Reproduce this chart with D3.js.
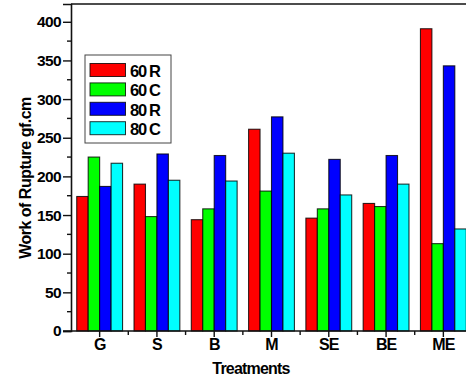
<!DOCTYPE html>
<html>
<head>
<meta charset="utf-8">
<script src="https://cdn.jsdelivr.net/npm/d3@7"></script>
<style>
  body { margin: 0; background: #fff; }
  text { font-family: "Liberation Sans", Arial, sans-serif; font-weight: bold; fill: #000; }
</style>
</head>
<body>
<div id="chart"></div>
<script>
// data
const treatments = ["G", "S", "B", "M", "SE", "BE", "ME"];
const seriesNames = ["60 R", "60 C", "80 R", "80 C"];
const seriesColors = ["#ff0000", "#00ff00", "#0000ff", "#00ffff"];
const values60R = [174, 190, 144, 261, 146, 165, 391];
const values60C = [225, 148, 158, 181, 158, 161, 113];
const values80R = [187, 229, 227, 277, 222, 227, 343];
const values80C = [217, 195, 194, 230, 176, 190, 132];
const yTicks = [0, 50, 100, 150, 200, 250, 300, 350, 400];
const yMinorTicks = [25, 75, 125, 175, 225, 275, 325, 375];

const allSeries = [values60R, values60C, values80R, values80C];

const width = 466;
const height = 379;
const margin = { top: 4, right: -6, bottom: 48, left: 71 };

const svg = d3
  .select("#chart")
  .append("svg")
  .attr("width", width)
  .attr("height", height);

const scaleX = d3
  .scaleBand()
  .domain(treatments)
  .range([margin.left, width - margin.right])
  .paddingInner(0.2)
  .paddingOuter(0.1);
const scaleSeries = d3
  .scaleBand()
  .domain(seriesNames)
  .range([0, scaleX.bandwidth()]);
const scaleY = d3
  .scaleLinear()
  .domain([0, 423])
  .range([height - margin.bottom, margin.top]);

// bars
const groups = svg
  .append("g")
  .selectAll("g")
  .data(treatments)
  .join("g")
  .attr("transform", (d) => `translate(${scaleX(d)},0)`);
groups
  .selectAll("rect")
  .data((d, i) => seriesNames.map((s, k) => ({ s, k, v: allSeries[k][i] })))
  .join("rect")
  .attr("x", (d) => scaleSeries(d.s))
  .attr("y", (d) => scaleY(d.v))
  .attr("width", scaleSeries.bandwidth())
  .attr("height", (d) => scaleY(0) - scaleY(d.v))
  .attr("fill", (d) => seriesColors[d.k])
  .attr("stroke", "#000")
  .attr("stroke-opacity", 0.8)
  .attr("stroke-width", 1.1);

// frame top line
svg
  .append("line")
  .attr("x1", margin.left)
  .attr("x2", width + 10)
  .attr("y1", margin.top)
  .attr("y2", margin.top)
  .attr("stroke", "#111")
  .attr("stroke-width", 1.6);

// y axis
const groupAxisY = svg
  .append("g")
  .attr("transform", `translate(${margin.left},0)`);
groupAxisY
  .call(d3.axisLeft(scaleY).tickValues(yTicks).tickSize(8).tickPadding(2))
  .call((g) => {
    g.select(".domain").attr("stroke", "#111").attr("stroke-width", 1.6);
    g.selectAll(".tick line").attr("stroke", "#111").attr("stroke-width", 1.4);
    g.selectAll(".tick text")
      .attr("font-size", "15.5px")
      .style("letter-spacing", "-0.6px")
      .attr("font-family", "Liberation Sans, Arial, sans-serif")
      .attr("font-weight", "bold");
  });
groupAxisY
  .append("g")
  .selectAll("line")
  .data(yMinorTicks)
  .join("line")
  .attr("x1", -4)
  .attr("x2", 0)
  .attr("y1", (d) => scaleY(d))
  .attr("y2", (d) => scaleY(d))
  .attr("stroke", "#111")
  .attr("stroke-width", 1.4);

// x axis
const groupAxisX = svg
  .append("g")
  .attr("transform", `translate(0,${scaleY(0)})`);
groupAxisX
  .append("line")
  .attr("x1", margin.left - 8)
  .attr("x2", width + 10)
  .attr("stroke", "#111")
  .attr("stroke-width", 1.6);
groupAxisX
  .selectAll(".major")
  .data(treatments)
  .join("line")
  .attr("class", "major")
  .attr("x1", (d) => scaleX(d) + scaleX.bandwidth() / 2)
  .attr("x2", (d) => scaleX(d) + scaleX.bandwidth() / 2)
  .attr("y1", 0)
  .attr("y2", 6)
  .attr("stroke", "#111")
  .attr("stroke-width", 1.4);
groupAxisX
  .selectAll(".minor")
  .data(treatments.slice(1))
  .join("line")
  .attr("class", "minor")
  .attr("x1", (d) => scaleX(d) - (scaleX.step() - scaleX.bandwidth()) / 2)
  .attr("x2", (d) => scaleX(d) - (scaleX.step() - scaleX.bandwidth()) / 2)
  .attr("y1", 0)
  .attr("y2", 4)
  .attr("stroke", "#111")
  .attr("stroke-width", 1.4);
groupAxisX
  .selectAll("text")
  .data(treatments)
  .join("text")
  .attr("x", (d) => scaleX(d) + scaleX.bandwidth() / 2)
  .attr("y", 19)
  .attr("text-anchor", "middle")
  .attr("font-size", "16px")
  .style("letter-spacing", "-1px")
  .text((d) => d);

// axis titles
svg
  .append("text")
  .attr("x", 251)
  .attr("y", 374)
  .attr("text-anchor", "middle")
  .attr("font-size", "16px")
  .style("letter-spacing", "-0.8px")
  .text("Treatments");
svg
  .append("text")
  .attr("transform", "translate(31,178) rotate(-90)")
  .attr("text-anchor", "middle")
  .attr("font-size", "16px")
  .style("letter-spacing", "-0.5px")
  .text("Work of Rupture gf.cm");

// legend
const legend = svg.append("g").attr("transform", "translate(85,55)");
legend
  .append("rect")
  .attr("width", 86)
  .attr("height", 88)
  .attr("fill", "#fff")
  .attr("stroke", "#444")
  .attr("stroke-width", 1);
const legendRows = legend
  .selectAll(".row")
  .data(seriesNames)
  .join("g")
  .attr("class", "row")
  .attr("transform", (d, i) => `translate(5,${8.5 + i * 19.4})`);
legendRows
  .append("rect")
  .attr("width", 35.5)
  .attr("height", 13)
  .attr("fill", (d, i) => seriesColors[i])
  .attr("stroke", "#000")
  .attr("stroke-opacity", 0.8)
  .attr("stroke-width", 1);
legendRows
  .append("text")
  .attr("x", 40)
  .attr("y", 13.5)
  .attr("font-size", "16.5px")
  .style("letter-spacing", "-1.3px")
  .text((d) => d);
</script>
</body>
</html>
